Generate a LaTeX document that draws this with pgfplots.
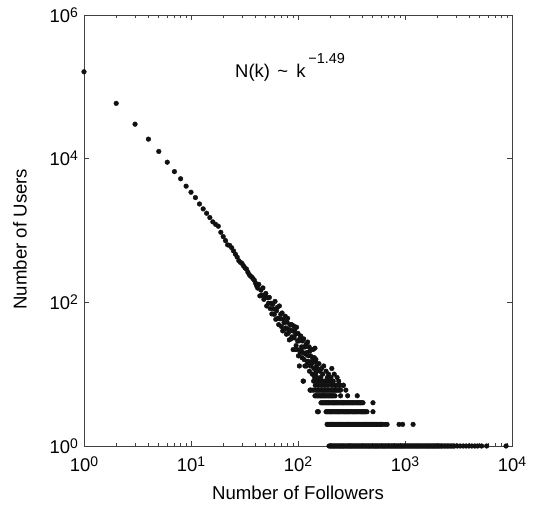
\documentclass[border=0pt]{standalone}
\usepackage{fontspec}
\setmainfont{Liberation Sans}
\usepackage{pgfplots}
\pgfplotsset{compat=1.18}
\newcommand{\tenp}[1]{10\raisebox{5bp}{\fontsize{14}{14}\selectfont #1}}
\definecolor{dot}{HTML}{111111}
\begin{document}
\fontsize{18}{21}\selectfont
\begin{tikzpicture}
\path[use as bounding box] (0,0) rectangle (534bp,505bp);
\begin{axis}[
  at={(84bp,59bp)}, anchor=south west,
  width=428bp, height=431bp, scale only axis,
  xmode=log, ymode=log,
  xmin=1, xmax=10000, ymin=1, ymax=1000000,
  xtick={1,10,100,1000,10000},
  xticklabels={\tenp{0},\tenp{1},\tenp{2},\tenp{3},\tenp{4}},
  ytick={1,100,10000,1000000},
  yticklabels={\tenp{0},\tenp{2},\tenp{4},\tenp{6}},
  yminorticks=false,
  tick pos=both, tick align=inside,
  major tick length=5bp, minor tick length=3bp,
  axis line style={black!75, line width=0.6bp},
  every tick/.style={black!75, line width=0.6bp},
  tick label style={font=\fontsize{18.5}{18}\selectfont, text=black},
  xticklabel style={yshift=-4.5bp},
  xlabel={Number of Followers}, ylabel={Number of Users},
  label style={font=\fontsize{18.7}{20}\selectfont},
  xlabel style={at={(axis description cs:0.5,-0.1237)}, anchor=base},
  ylabel style={at={(axis description cs:-0.134,0.48)}, anchor=base},
  clip=false,
]
% main sequence
\addplot[only marks, mark=*, mark size=2.35bp, color=dot] table[row sep=\\] {
k N\\
1 162000\\ 2 58900\\ 3 30200\\ 4 18700\\ 5 12600\\ 6 8930\\ 7 6610\\ 8 5250\\ 9 4140\\ 10 3410\\
11 2870\\ 12 2340\\ 13 2000\\ 14 1738\\ 15 1514\\ 16 1318\\ 17 1216\\ 18 1148\\ 19 944\\ 20 822\\
21 724\\ 22 631\\ 23 620\\ 24 575\\ 25 519\\ 26 468\\ 27 427\\ 28 380\\ 29 360\\ 30 347\\
31 320\\ 32 302\\ 33 290\\ 34 263\\ 35 243\\ 36 232\\ 37 224\\ 38 214\\ 39 204\\ 40 186\\
41 170\\ 42 158\\ 43 178\\ 44 123\\ 45 148\\ 46 126\\ 47 159\\ 48 110\\ 49 121\\ 50 133\\
51 89\\ 52 116\\ 53 97\\ 54 117\\ 55 82\\ 56 97\\ 57 69\\ 58 94\\ 59 81\\ 60 68\\
61 103\\ 62 58\\ 63 76\\ 64 85\\ 65 60\\ 66 49\\ 67 89\\ 68 59\\ 69 68\\ 70 46\\
71 71\\ 72 40\\ 73 58\\ 74 52\\ 75 42\\ 76 64\\ 77 44\\ 78 36\\ 79 53\\ 80 60\\
81 37\\ 82 42\\ 83 30\\ 84 49\\ 85 41\\ 86 31\\ 87 49\\ 88 33\\ 89 40\\ 90 22\\
91 47\\ 92 32\\ 93 41\\ 94 22\\ 95 36\\ 96 25\\ 97 45\\ 98 22\\ 99 29\\ 100 37\\
101 18\\ 102 29\\ 103 13\\ 104 31\\ 105 20\\ 106 34\\ 107 22\\ 108 24\\ 109 17\\ 110 29\\
111 20\\ 112 8\\ 113 31\\ 114 16\\ 115 24\\ 116 13\\ 117 24\\ 118 19\\ 119 26\\ 120 13\\
121 20\\ 122 15\\ 123 28\\ 124 14\\ 125 18\\ 126 15\\ 127 24\\ 128 11\\ 129 21\\ 130 6\\
131 18\\ 132 13\\ 133 22\\ 134 14\\ 135 15\\ 136 10\\ 137 17\\ 138 22\\ 139 10\\ 140 15\\
141 12\\ 142 17\\ 143 9\\ 144 23\\ 145 15\\ 146 10\\ 147 16\\ 148 11\\ 149 13\\ 150 9\\
152 12\\ 155 3\\ 157 14\\ 160 11\\ 163 9\\ 166 12\\ 170 10\\ 174 13\\ 178 8\\ 183 11\\
188 9\\ 193 10\\ 198 8\\ 203 9\\ 207 12\\ 212 8\\ 218 10\\ 225 7\\ 232 9\\ 240 8\\
248 7\\ 265 7\\ 280 6\\
};
% discrete rows
\addplot[only marks, mark=*, mark size=2.35bp, color=dot] table[row sep=\\] {
k N\\
195 1\\ 200 1\\ 205 1\\ 210 1\\ 215 1\\ 220 1\\ 226 1\\ 231 1\\ 237 1\\ 243 1\\ 249 1\\ 255 1\\
261 1\\ 267 1\\ 274 1\\ 281 1\\ 288 1\\ 295 1\\ 302 1\\ 310 1\\ 317 1\\ 325 1\\ 333 1\\ 341 1\\
350 1\\ 358 1\\ 367 1\\ 376 1\\ 386 1\\ 395 1\\ 405 1\\ 415 1\\ 425 1\\ 435 1\\ 446 1\\ 457 1\\
468 1\\ 480 1\\ 492 1\\ 504 1\\ 516 1\\ 529 1\\ 542 1\\ 555 1\\ 569 1\\ 583 1\\ 598 1\\ 613 1\\
628 1\\ 643 1\\ 659 1\\ 675 1\\ 692 1\\ 709 1\\ 727 1\\ 745 1\\ 763 1\\ 782 1\\ 801 1\\ 821 1\\
841 1\\ 862 1\\ 883 1\\ 905 1\\ 927 1\\ 950 1\\ 974 1\\ 998 1\\ 1022 1\\ 1048 1\\ 1074 1\\ 1100 1\\
1127 1\\ 1155 1\\ 1184 1\\ 1213 1\\ 1243 1\\ 1274 1\\ 1305 1\\ 1337 1\\ 1370 1\\ 1404 1\\ 1439 1\\
1475 1\\ 1511 1\\ 1548 1\\ 1586 1\\ 1626 1\\ 1666 1\\ 1707 1\\ 1749 1\\ 1792 1\\ 1836 1\\ 1882 1\\
1928 1\\ 1976 1\\ 2025 1\\ 2075 1\\ 2126 1\\ 2188 1\\ 2250 1\\ 2325 1\\ 2400 1\\ 2475 1\\ 2550 1\\
2635 1\\ 2720 1\\ 2810 1\\ 2900 1\\ 3080 1\\ 3280 1\\ 3500 1\\ 3720 1\\ 3960 1\\
4220 1\\ 4500 1\\ 4780 1\\ 5200 1\\ 5800 1\\ 8800 1\\
187 2\\ 191 2\\ 196 2\\ 201 2\\ 206 2\\ 211 2\\ 216 2\\ 221 2\\ 227 2\\ 232 2\\ 238 2\\ 244 2\\
250 2\\ 256 2\\ 263 2\\ 269 2\\ 276 2\\ 283 2\\ 290 2\\ 297 2\\ 304 2\\ 311 2\\ 319 2\\ 327 2\\
335 2\\ 343 2\\ 352 2\\ 361 2\\ 370 2\\ 379 2\\ 388 2\\ 398 2\\ 408 2\\ 418 2\\ 428 2\\ 438 2\\
449 2\\ 460 2\\ 472 2\\ 483 2\\ 495 2\\ 507 2\\ 520 2\\ 533 2\\ 546 2\\ 559 2\\ 573 2\\ 587 2\\
602 2\\ 615 2\\ 650 2\\ 680 2\\ 880 2\\ 950 2\\ 1190 2\\
152 3\\ 183 3\\ 187 3\\ 192 3\\ 197 3\\ 202 3\\ 207 3\\ 212 3\\ 217 3\\ 223 3\\ 228 3\\ 234 3\\
240 3\\ 245 3\\ 251 3\\ 258 3\\ 264 3\\ 270 3\\ 277 3\\ 284 3\\ 291 3\\ 298 3\\ 305 3\\ 313 3\\
321 3\\ 329 3\\ 337 3\\ 345 3\\ 354 3\\ 363 3\\ 372 3\\ 381 3\\ 390 3\\ 400 3\\ 410 3\\ 420 3\\
430 3\\ 441 3\\ 502 3\\
164 4\\ 168 4\\ 172 4\\ 176 4\\ 181 4\\ 185 4\\ 190 4\\ 194 4\\ 199 4\\ 204 4\\ 209 4\\ 214 4\\
220 4\\ 225 4\\ 231 4\\ 236 4\\ 242 4\\ 248 4\\ 254 4\\ 260 4\\ 267 4\\ 273 4\\ 280 4\\ 287 4\\
294 4\\ 301 4\\ 309 4\\ 316 4\\ 324 4\\ 332 4\\ 341 4\\ 349 4\\ 358 4\\ 367 4\\ 376 4\\ 385 4\\
395 4\\ 405 4\\ 502 4\\
144 5\\ 147 5\\ 151 5\\ 154 5\\ 158 5\\ 162 5\\ 166 5\\ 170 5\\ 174 5\\ 178 5\\ 182 5\\ 186 5\\
191 5\\ 195 5\\ 200 5\\ 205 5\\ 210 5\\ 216 5\\ 222 5\\ 250 5\\ 291 5\\ 358 5\\
130 6\\ 135 6\\ 140 6\\ 147 6\\ 150 6\\ 154 6\\ 157 6\\ 161 6\\ 165 6\\ 169 6\\ 173 6\\ 177 6\\
181 6\\ 186 6\\ 190 6\\ 195 6\\ 199 6\\ 204 6\\ 209 6\\ 214 6\\ 219 6\\ 225 6\\ 230 6\\ 236 6\\
243 6\\ 250 6\\
145 7\\ 155 7\\ 166 7\\ 178 7\\ 190 7\\ 207 7\\ 222 7\\ 240 7\\ 265 7\\
112 8\\ 140 8\\ 150 8\\ 160 8\\ 172 8\\ 185 8\\ 200 8\\ 213 8\\
};
\node[anchor=base west, font=\fontsize{18.5}{18}\selectfont, inner sep=0pt] at (rel axis cs:0.3528,0.8561)
  {N(k)\hspace{0.4em}\textasciitilde\hspace{0.45em}k\hspace{0.15em}\raisebox{13.5bp}{\fontsize{14.5}{14.5}\selectfont −1.49}};
\end{axis}
\end{tikzpicture}
\end{document}
